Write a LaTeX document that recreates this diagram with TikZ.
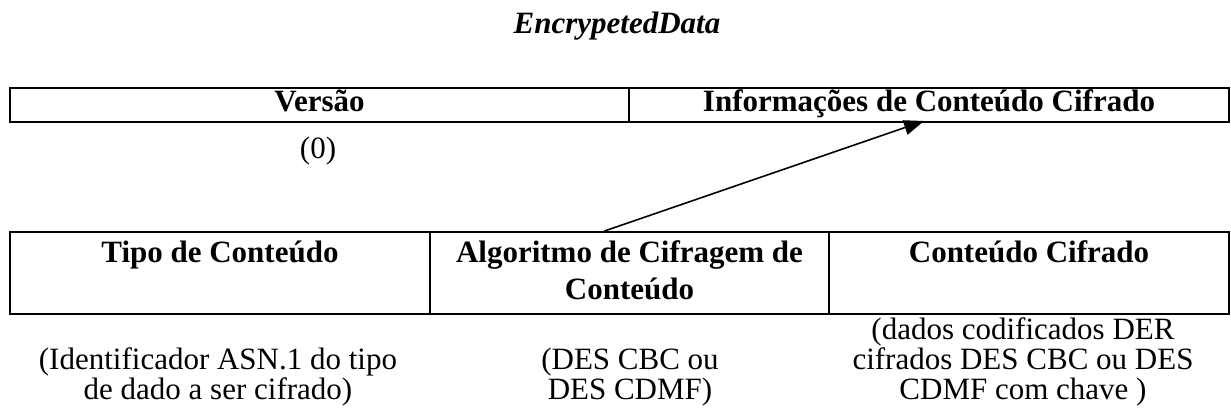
\documentclass[tikz,border=0pt]{standalone}
\usepackage{fontspec}
\setmainfont{Liberation Serif}
\usetikzlibrary{arrows.meta}

\begin{document}
\begin{tikzpicture}[x=1pt,y=-1pt,>={Triangle[length=20pt,width=15pt]},
                    semithick]
  \tikzstyle{cell}=[draw,line width=2pt,inner sep=0pt,align=center,
                    font=\fontsize{31}{37}\selectfont\bfseries]
  \tikzstyle{note}=[inner sep=0pt,align=center,
                    font=\fontsize{31}{30}\selectfont]

  \useasboundingbox (0,0) rectangle (1231,412);

  \node[anchor=base,font=\fontsize{31}{33}\selectfont\bfseries\itshape] (title) at (617,34) {EncrypetedData};

  \node[cell,minimum width=619pt,minimum height=34pt,text height=23pt,text depth=11pt]
        (versao) at (319.5,105) {Versão};
  \node[cell,minimum width=600pt,minimum height=34pt,text height=23pt,text depth=11pt]
        (info)   at (929,105)   {Informações de Conteúdo Cifrado};
  \node[note] (zero) at (318,151) {(0)};

  \node[cell,minimum width=420pt,minimum height=82pt,text height=30pt,text depth=52pt]
        (tipo) at (220,273)  {Tipo de Conteúdo};
  \node[cell,minimum width=399pt,minimum height=82pt,text height=67pt,text depth=15pt]
        (algo) at (629.5,273)  {Algoritmo de Cifragem de\\Conteúdo};
  \node[cell,minimum width=400pt,minimum height=82pt,text height=30pt,text depth=52pt]
        (cifrado) at (1029,273) {Conteúdo Cifrado};

  \node[note] (tipo note) at (218,377) {(Identificador ASN.1 do tipo\\de dado a ser cifrado)};
  \node[note] (algo note) at (630,377) {(DES CBC ou\\DES CDMF)};
  \node[note] (cifrado note) at (1023,362) {(dados codificados DER\\cifrados DES CBC ou DES\\CDMF com chave )};

  \draw[->,line width=1.6pt] ([xshift=-25pt]algo.north) -- ([xshift=-5pt,yshift=2pt]info.south);
\end{tikzpicture}
\end{document}
